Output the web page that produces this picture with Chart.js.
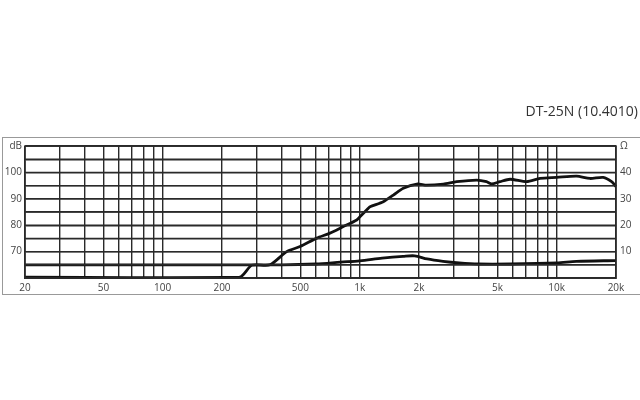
<!DOCTYPE html>
<html>
<head>
<meta charset="utf-8">
<script src="https://cdn.jsdelivr.net/npm/chart.js@4.4.1/dist/chart.umd.min.js"></script>
</head>
<body style="margin:0">
<canvas id="fr-chart" width="640" height="400"></canvas>
<script>
// Frequency response (dB) and impedance (ohm)
const splFreq = [20, 245, 283, 350, 426, 498, 605, 706, 826, 966, 1003, 1106, 1128, 1318, 1482, 1665, 1947, 2188, 2657, 3106, 3926, 4400, 4676, 5154, 5800, 7040, 8230, 10000, 12630, 14750, 17230, 19000, 20000];
const splDb = [60.3, 60.3, 64.8, 65.0, 70.0, 71.9, 75.1, 77.0, 79.5, 82.0, 83.2, 86.4, 87.0, 88.9, 91.4, 94.0, 95.6, 95.2, 95.6, 96.5, 97.1, 96.5, 95.6, 96.5, 97.4, 96.5, 97.7, 98.1, 98.6, 97.7, 98.1, 96.5, 94.6];

const impFreq = [20, 400, 600, 800, 1000, 1300, 1660, 1900, 2200, 2650, 3200, 4000, 5800, 10000, 12600, 20000];
const impOhm = [5.0, 5.0, 5.3, 6.0, 6.5, 7.5, 8.2, 8.4, 7.2, 6.3, 5.7, 5.3, 5.3, 5.7, 6.3, 6.6];

// grid positions on the frequency axis and the ones that get a label
const freqGrid = [20, 30, 40, 50, 60, 70, 80, 90, 100, 200, 300, 400, 500, 600, 700, 800, 900,
  1000, 2000, 3000, 4000, 5000, 6000, 7000, 8000, 9000, 10000, 20000];
const freqLabels = { 20: '20', 50: '50', 100: '100', 200: '200', 500: '500', 1000: '1k', 2000: '2k', 5000: '5k', 10000: '10k', 20000: '20k' };

// level grid every 5 dB, labels every 10
const dbGrid = [60, 65, 70, 75, 80, 85, 90, 95, 100, 105, 110];
const dbLabels = { 70: '70', 80: '80', 90: '90', 100: '100', 110: 'dB' };
const ohmGrid = [0, 10, 20, 30, 40, 50];
const ohmLabels = { 10: '10', 20: '20', 30: '30', 40: '40', 50: 'Ω' };

const chartTitle = 'DT-25N (10.4010)';

const gridColor = '#2a2a2a';
const textColor = '#444';

// outer frame, heading, level grid and plot border
const framePlugin = {
  id: 'frame',
  beforeDraw(chart) {
    const c = chart.ctx;
    c.save();
    c.strokeStyle = '#999';
    c.lineWidth = 1;
    c.strokeRect(2.5, 137.5, 640, 157);
    c.fillStyle = '#333';
    c.font = '14px "Open Sans"';
    c.textAlign = 'right';
    c.textBaseline = 'middle';
    c.fillText(chartTitle, 638, 112);
    c.restore();
  },
  afterDraw(chart) {
    const a = chart.chartArea;
    const yScale = chart.scales.y;
    const c = chart.ctx;
    c.save();
    c.strokeStyle = gridColor;
    c.lineWidth = 1.4;
    dbGrid.forEach(v => {
      const py = yScale.getPixelForValue(v);
      c.beginPath();
      c.moveTo(a.left, py);
      c.lineTo(a.right, py);
      c.stroke();
    });
    c.lineWidth = 1.5;
    c.strokeRect(a.left, a.top, a.right - a.left, a.bottom - a.top);
    c.restore();
  }
};

new Chart(document.getElementById('fr-chart'), {
  type: 'line',
  data: {
    datasets: [
      {
        label: 'SPL',
        data: splFreq.map((f, i) => ({ x: f, y: splDb[i] })),
        yAxisID: 'y',
        borderColor: '#111',
        borderWidth: 2.8,
        pointRadius: 0,
        tension: 0.25,
        clip: 4
      },
      {
        label: 'Impedance',
        data: impFreq.map((f, i) => ({ x: f, y: impOhm[i] })),
        yAxisID: 'y2',
        borderColor: '#111',
        borderWidth: 2.8,
        pointRadius: 0,
        tension: 0.3
      }
    ]
  },
  options: {
    responsive: false,
    animation: false,
    devicePixelRatio: 1,
    layout: { padding: { top: 146 } },
    plugins: { legend: { display: false }, tooltip: { enabled: false } },
    scales: {
      x: {
        type: 'logarithmic',
        min: 20,
        max: 20000,
        afterBuildTicks(scale) { scale.ticks = freqGrid.map(v => ({ value: v })); },
        afterFit(scale) { scale.height = 122; },
        ticks: {
          autoSkip: false,
          maxRotation: 0,
          padding: 4,
          color: textColor,
          font: { family: 'Open Sans', size: 10 },
          callback: (v) => freqLabels[v] || ''
        },
        grid: { color: gridColor, lineWidth: 1.4, tickLength: 0 }
      },
      y: {
        min: 60,
        max: 110,
        afterBuildTicks(scale) { scale.ticks = dbGrid.map(v => ({ value: v })); },
        afterFit(scale) { scale.width = 25; },
        ticks: {
          autoSkip: false,
          padding: 3,
          color: textColor,
          font: { family: 'Open Sans', size: 10 },
          callback: (v) => dbLabels[v] || ''
        },
        grid: { color: gridColor, lineWidth: 1.4, tickLength: 0 }
      },
      y2: {
        position: 'right',
        min: 0,
        max: 50,
        afterBuildTicks(scale) { scale.ticks = ohmGrid.map(v => ({ value: v })); },
        afterFit(scale) { scale.width = 24; },
        ticks: {
          autoSkip: false,
          padding: 4,
          color: textColor,
          font: { family: 'Open Sans', size: 10 },
          callback: (v) => ohmLabels[v] || ''
        },
        grid: { drawOnChartArea: false, tickLength: 0 }
      }
    }
  },
  plugins: [framePlugin]
});
</script>
</body>
</html>
